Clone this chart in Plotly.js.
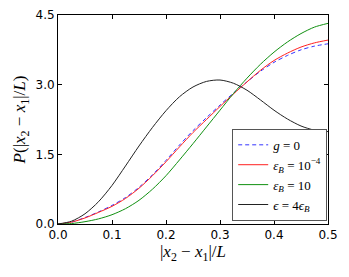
<!DOCTYPE html>
<html>
<head>
<meta charset="utf-8">
<script src="https://cdn.plot.ly/plotly-3.0.1.min.js"></script>
<style>html,body{margin:0;padding:0;background:#fff;}#plot{width:349px;height:277px;}</style>
</head>
<body>
<div id="plot"></div>
<script>
const xVals = [0,0.025,0.05,0.075,0.1,0.125,0.15,0.175,0.2,0.225,0.25,0.275,0.3,0.325,0.35,0.375,0.4,0.425,0.45,0.475,0.5];
const gZero = [0,0.04,0.14,0.26,0.40,0.57,0.79,1.06,1.37,1.70,2.01,2.29,2.56,2.82,3.06,3.29,3.48,3.63,3.75,3.83,3.88];
const epsSmall = [0,0.04,0.13,0.25,0.38,0.55,0.77,1.04,1.34,1.66,1.97,2.25,2.53,2.80,3.06,3.31,3.52,3.68,3.81,3.90,3.96];
const epsTen = [0,0.01,0.05,0.11,0.20,0.33,0.51,0.75,1.04,1.38,1.73,2.09,2.45,2.81,3.14,3.44,3.70,3.92,4.10,4.24,4.32];
const epsFour = [0,0.06,0.22,0.48,0.83,1.25,1.68,2.08,2.44,2.74,2.95,3.07,3.10,3.03,2.88,2.67,2.45,2.26,2.11,2.02,1.99];
const xTicks = [0,0.1,0.2,0.3,0.4,0.5];
const xTickText = ["0.0","0.1","0.2","0.3","0.4","0.5"];
const yTicks = [0,1.5,3.0,4.5];
const yTickText = ["0.0","1.5","3.0","4.5"];
const labels = ["<i>g</i> = 0", "<i>ε</i><sub><i>B</i></sub> = 10<sup>−4</sup>", "<i>ε</i><sub><i>B</i></sub> = 10", "<i>ϵ</i> = 4<i>ϵ</i><sub><i>B</i></sub>"];

const traces = [
  {x:xVals, y:gZero, name:labels[0], mode:'lines', line:{color:'#3333ff', width:1, dash:'4px,3px'}},
  {x:xVals, y:epsSmall, name:labels[1], mode:'lines', line:{color:'#ff2020', width:1}},
  {x:xVals, y:epsTen, name:labels[2], mode:'lines', line:{color:'#109010', width:1}},
  {x:xVals, y:epsFour, name:labels[3], mode:'lines', line:{color:'#222222', width:1}}
];
traces.forEach(t => { t.line.shape = 'spline'; t.line.smoothing = 0.8; });

const axisCommon = {
  showline:true, mirror:'ticks', linecolor:'#000', linewidth:1,
  ticks:'inside', ticklen:4, tickcolor:'#000', tickwidth:1,
  showgrid:false, zeroline:false,
  tickfont:{family:'DejaVu Sans', size:12, color:'#000'}
};

const layout = {
  width:349, height:277,
  margin:{l:58, r:21, t:15, b:53},
  paper_bgcolor:'#fff', plot_bgcolor:'#fff',
  showlegend:true,
  xaxis: Object.assign({}, axisCommon, {
    range:[0,0.5], tickvals:xTicks, ticktext:xTickText,
    title:{text:'|<i>x</i><sub>2</sub> − <i>x</i><sub>1</sub>|/<i>L</i>', font:{family:'Liberation Serif', size:17, color:'#000'}, standoff:3}
  }),
  yaxis: Object.assign({}, axisCommon, {
    range:[0,4.5], tickvals:yTicks, ticktext:yTickText,
    title:{text:'<i>P</i>(|<i>x</i><sub>2</sub> − <i>x</i><sub>1</sub>|/<i>L</i>)', font:{family:'Liberation Serif', size:17, color:'#000'}, standoff:5}
  }),
  legend:{
    x:0.997, xanchor:'right', y:0.015, yanchor:'bottom',
    bgcolor:'#fff', bordercolor:'#555', borderwidth:1,
    font:{family:'Liberation Serif', size:13, color:'#000'},
    tracegroupgap:0, itemwidth:30
  }
};

Plotly.newPlot('plot', traces, layout, {displayModeBar:false, staticPlot:true});
</script>
</body>
</html>
